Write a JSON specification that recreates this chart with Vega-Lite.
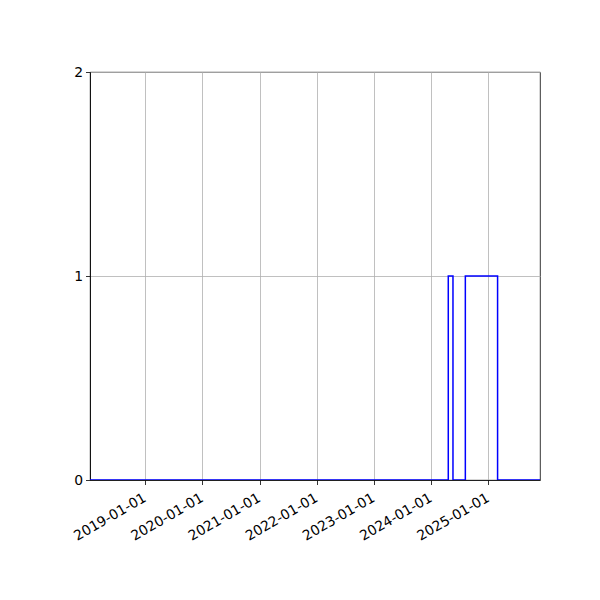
{
  "$schema": "https://vega.github.io/schema/vega-lite/v6.json",
  "autosize": "none",
  "width": 450,
  "height": 408,
  "padding": {"left": 90, "top": 72, "right": 60, "bottom": 120},
  "background": "white",
  "config": {
    "font": "DejaVu Sans",
    "view": {"stroke": "black", "strokeWidth": 0.8},
    "axis": {
      "labelFont": "DejaVu Sans",
      "labelFontSize": 13.9,
      "labelColor": "black",
      "domainColor": "black",
      "domainWidth": 0.8,
      "tickColor": "black",
      "tickWidth": 0.8,
      "tickSize": 4.5,
      "labelPadding": 3,
      "gridColor": "#b0b0b0",
      "gridWidth": 0.8,
      "zindex": 1
    }
  },
  "data": {
    "values": [
      {"date": "2018-01-13", "value": 0},
      {"date": "2024-04-20", "value": 1},
      {"date": "2024-05-20", "value": 0},
      {"date": "2024-08-07", "value": 1},
      {"date": "2025-03-01", "value": 0},
      {"date": "2025-11-27", "value": 0}
    ]
  },
  "mark": {"type": "line", "interpolate": "step-after", "color": "#0000ff", "strokeWidth": 1.5, "clip": true},
  "encoding": {
    "x": {
      "field": "date",
      "type": "temporal",
      "title": null,
      "scale": {"domain": ["2018-01-13", "2025-11-27"], "nice": false},
      "axis": {
        "format": "%Y-%m-%d",
        "tickCount": {"interval": "year", "step": 1},
        "labelAngle": -30,
        "labelAlign": "right",
        "labelBaseline": "top",
        "labelOverlap": false,
        "labelOffset": -4,
        "labelPadding": 6,
        "grid": true
      }
    },
    "y": {
      "field": "value",
      "type": "quantitative",
      "title": null,
      "scale": {"domain": [0, 2], "nice": false},
      "axis": {"tickCount": 2, "labelOverlap": false, "labelFlush": false, "grid": true}
    }
  }
}
